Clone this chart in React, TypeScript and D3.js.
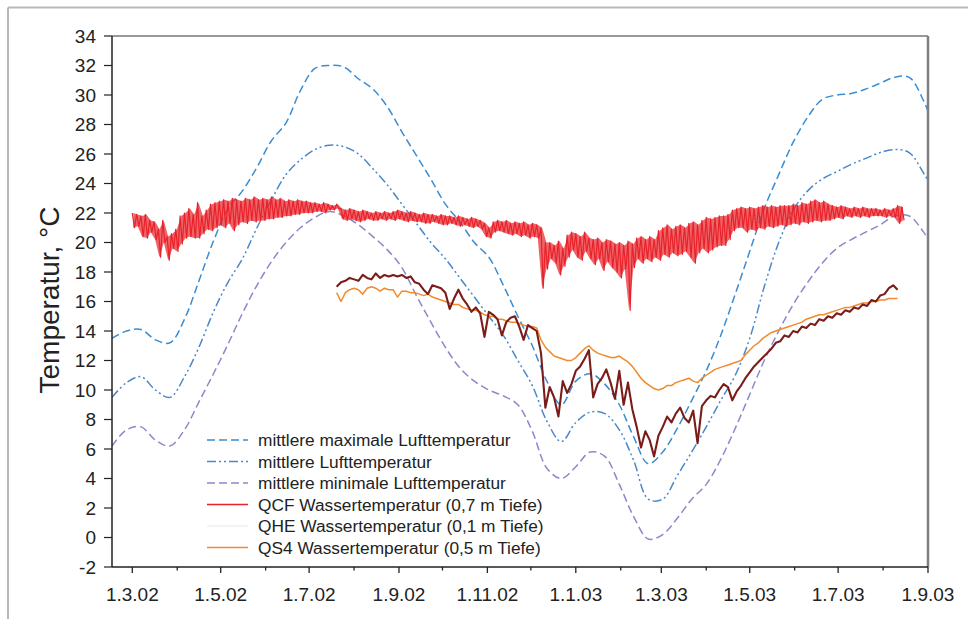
import React from "react";
import * as d3 from "d3";

const WIDTH = 968;
const HEIGHT = 619;

// ---------- axes ----------
const xStart = "2002-02-15";
const xEnd = "2003-09-01";
const yTickValues = [-2, 0, 2, 4, 6, 8, 10, 12, 14, 16, 18, 20, 22, 24, 26, 28, 30, 32, 34];
const xMajorDates = ["2002-03-01", "2002-05-01", "2002-07-01", "2002-09-01", "2002-11-01", "2003-01-01", "2003-03-01", "2003-05-01", "2003-07-01", "2003-09-01"];
const xMajorLabels = ["1.3.02", "1.5.02", "1.7.02", "1.9.02", "1.11.02", "1.1.03", "1.3.03", "1.5.03", "1.7.03", "1.9.03"];
const xMinorDates = ["2002-04-01", "2002-06-01", "2002-08-01", "2002-10-01", "2002-12-01", "2003-02-01", "2003-04-01", "2003-06-01", "2003-08-01"];
const yTitle = "Temperatur, °C";

// ---------- air temperatures (every 10 days from 15.2.02) ----------
const airStart = "2002-02-15";
const airStepDays = 10;
const airMax = [13.5, 14.0, 14.1, 13.4, 13.2, 14.8, 17.4, 20.1, 22.3, 23.5, 25.1, 26.9, 28.1, 30.3, 31.8, 32.0, 31.9, 31.1, 30.4, 29.2, 27.5, 25.9, 24.3, 22.6, 21.4, 20.0, 19.0, 17.1, 15.0, 13.0, 10.6, 9.0, 10.6, 11.1, 10.4, 9.0, 6.8, 5.0, 5.8, 7.4, 9.3, 11.3, 13.7, 16.5, 19.4, 22.3, 24.6, 26.8, 28.5, 29.7, 30.0, 30.1, 30.4, 30.8, 31.2, 31.2, 29.6, 27.0];
const airMean = [9.5, 10.5, 10.9, 10.0, 9.5, 10.9, 12.9, 15.3, 17.3, 18.9, 21.0, 22.9, 24.6, 25.6, 26.3, 26.6, 26.5, 26.0, 25.0, 23.9, 22.6, 21.3, 20.0, 18.9, 17.6, 16.3, 15.0, 13.7, 12.0, 10.3, 7.9, 6.5, 7.8, 8.5, 8.4, 7.3, 5.2, 2.6, 2.6, 4.2, 5.8, 7.5, 9.3, 11.0, 13.5, 17.0, 20.0, 22.2, 23.5, 24.3, 24.8, 25.3, 25.7, 26.1, 26.3, 26.1, 24.7, 23.0];
const airMin = [6.2, 7.3, 7.5, 6.6, 6.2, 7.3, 9.2, 11.1, 13.1, 15.2, 17.1, 18.7, 20.0, 21.0, 21.7, 22.1, 21.8, 21.2, 20.4, 19.5, 18.3, 16.4, 14.6, 12.9, 11.5, 10.6, 10.0, 9.6, 9.0, 7.2, 4.7, 4.0, 4.8, 5.8, 5.5, 3.6, 1.4, -0.1, 0.2, 1.3, 2.6, 3.6, 5.3, 7.4, 9.7, 12.0, 14.0, 15.8, 17.3, 18.6, 19.6, 20.2, 20.7, 21.2, 21.8, 21.8, 20.7, 19.0];

// ---------- QCF water temperature: peaks / troughs every 3 days from 1.3.02 ----------
const qcfStart = "2002-03-01";
const qcfStepDays = 3;
const qcfPeaks = [
  22.0, 21.9, 21.8, 21.9, 21.5, 21.4, 20.9, 21.5, 20.4, 20.6,
  20.9, 21.8, 22.0, 22.3, 21.9, 22.7, 21.8, 22.2, 22.6, 22.7,
  22.8, 22.9, 22.8, 23.0, 22.9, 22.8, 23.0, 22.9, 23.1, 22.9,
  23.0, 22.9, 23.1, 22.9, 23.0, 22.8, 22.9, 22.8, 22.9, 22.8,
  22.8, 22.7, 22.7, 22.6, 22.7, 22.6, 22.5, 22.6, 22.3, 22.2,
  22.3, 22.2, 22.1, 22.2, 22.1, 22.0, 22.1, 22.0, 22.1, 22.0,
  22.1, 22.2, 22.1, 22.0, 22.1, 22.0, 21.9, 22.0, 21.9, 21.9,
  21.8, 21.9, 21.8, 21.8, 21.7, 21.8, 21.7, 21.6, 21.7, 21.6,
  21.5, 21.3, 21.0, 21.4, 21.5, 21.4, 21.5, 21.3, 21.4, 21.3,
  21.4, 21.2, 21.3, 21.2, 21.0, 20.0, 20.0, 19.8, 20.1, 19.6,
  20.5, 20.7, 20.6, 20.4, 20.7, 20.3, 20.2, 20.3, 20.0, 20.2,
  20.1, 19.9, 20.0, 19.8, 20.1, 19.9, 20.3, 20.4, 20.2, 20.4,
  20.2, 20.8, 21.0, 21.2, 20.9, 21.1, 21.2, 21.0, 21.3, 21.4,
  21.2, 21.5, 21.7, 21.6, 21.7, 21.8, 21.8, 21.9, 22.2, 22.3,
  22.4, 22.3, 22.4, 22.3, 22.4, 22.5, 22.4, 22.5, 22.4, 22.5,
  22.5, 22.5, 22.6, 22.5, 22.7, 22.6, 22.8, 22.9, 22.7, 22.8,
  22.6, 22.5, 22.4, 22.5, 22.4, 22.3, 22.4, 22.3, 22.4, 22.3,
  22.3, 22.3, 22.2, 22.3, 22.2, 22.3, 22.5, 22.4,
];
const qcfTroughs = [
  21.0, 21.1, 20.4, 20.3, 20.7, 20.2, 19.0, 20.0, 18.8, 19.6,
  19.4, 19.9, 20.3, 20.4, 20.3, 20.3, 20.6, 20.9, 20.8, 21.0,
  21.2, 21.0, 21.3, 20.8, 21.2, 21.4, 21.3, 21.5, 21.4, 21.5,
  21.5, 21.6, 21.6, 21.7, 21.7, 21.8, 21.8, 21.9, 21.9, 22.0,
  22.0, 22.0, 22.1, 22.1, 22.0, 22.2, 22.2, 22.3, 21.6, 21.5,
  21.6, 21.5, 21.4, 21.5, 21.6, 21.5, 21.5, 21.6, 21.5, 21.6,
  21.5, 21.6, 21.5, 21.4, 21.5, 21.4, 21.4, 21.3, 21.3, 21.4,
  21.3, 21.2, 21.2, 21.3, 21.2, 21.1, 21.2, 21.1, 21.0, 21.1,
  20.9, 20.4, 20.3, 20.7, 20.8, 20.7, 20.6, 20.5, 20.6, 20.4,
  20.5, 20.3, 20.4, 20.3, 16.9, 18.2, 18.9, 18.6, 17.8, 18.4,
  19.0, 19.5, 19.0, 18.8, 19.4, 18.9, 18.5, 18.9, 18.1, 18.7,
  18.3, 18.0, 17.6, 18.2, 15.4, 18.3, 18.9, 18.6, 18.9, 18.7,
  19.0, 18.8, 19.2, 19.0, 19.3, 19.1, 19.2, 19.4, 19.0, 18.6,
  19.3, 19.6, 19.3, 19.5, 19.7, 19.8, 19.8, 20.2, 20.8, 21.0,
  21.0, 20.7, 20.9, 20.8, 21.0, 20.9, 21.1, 21.0, 21.1, 21.2,
  21.1, 21.2, 21.3, 21.2, 21.4, 21.3, 21.4, 21.5, 21.4, 21.5,
  21.5, 21.6, 21.7, 21.6, 21.8, 21.7, 21.8, 21.7, 21.8, 21.7,
  21.8, 21.8, 21.8, 21.7, 21.8, 21.7, 21.3, 21.5,
];

// ---------- QHE and QS4 water temperatures (every 3 days from 20.7.02) ----------
const waterStart = "2002-07-20";
const waterStepDays = 3;
const qheValues = [
  17.0, 17.3, 17.4, 17.6, 17.5, 17.4, 17.8, 17.6, 17.5, 17.9,
  17.6, 17.8, 17.7, 17.8, 17.7, 17.8, 17.6, 17.7, 17.3, 17.2,
  16.8, 16.5, 17.1, 17.0, 16.9, 16.6, 15.5, 16.2, 16.8, 16.2,
  15.8, 15.3, 15.6, 15.2, 13.6, 15.3, 15.1, 14.8, 13.7, 14.6,
  14.9, 15.0, 14.3, 13.4, 14.4, 14.2, 14.0, 12.5, 8.8, 10.2,
  9.5, 8.2, 10.6, 9.8, 10.4, 11.3, 11.6, 12.1, 12.7, 9.5,
  10.4, 10.8, 11.4, 10.5, 9.4, 11.3, 9.0, 10.5, 8.7, 7.5,
  6.1, 7.2, 6.6, 5.5, 6.9, 7.5, 8.2, 7.8, 8.4, 8.8,
  8.1, 7.8, 8.6, 6.4, 8.9, 9.3, 9.6, 9.5, 10.0, 10.4,
  10.2, 9.3, 9.9, 10.3, 10.8, 11.2, 11.6, 11.9, 12.2, 12.5,
  12.8, 13.2, 13.3, 13.7, 13.6, 14.0, 13.9, 14.3, 14.2, 14.5,
  14.4, 14.8, 14.7, 15.0, 14.9, 15.2, 15.1, 15.4, 15.3, 15.6,
  15.5, 15.8, 15.7, 16.1, 16.0, 16.4, 16.5, 16.9, 17.1, 16.8,
];
const qs4Values = [
  16.6, 16.0, 16.6, 16.8, 16.9, 16.8, 16.5, 16.9, 17.0, 16.9,
  16.7, 16.9, 16.8, 16.8, 16.3, 16.7, 16.7, 16.6, 16.6, 16.5,
  16.4, 16.5, 16.3, 16.2, 16.1, 16.0, 15.9, 15.8, 15.8, 15.6,
  15.5, 15.4, 15.4, 15.3, 15.1, 15.0, 15.0, 14.8, 14.8, 14.7,
  14.6, 14.6, 14.5, 14.4, 14.3, 14.3, 14.2, 13.4, 12.9, 12.6,
  12.3, 12.2, 12.1, 12.0, 12.0, 12.2, 12.5, 12.8, 13.0, 12.7,
  12.5, 12.4, 12.3, 12.2, 12.2, 12.3, 12.1, 11.9, 11.6, 11.2,
  10.8, 10.5, 10.3, 10.1, 10.0, 10.1, 10.3, 10.3, 10.5, 10.6,
  10.7, 10.8, 10.6, 10.5, 10.8, 11.0, 11.2, 11.4, 11.5, 11.6,
  11.7, 11.8, 11.9, 12.0, 12.4, 12.7, 13.0, 13.2, 13.5, 13.7,
  13.9, 14.0, 14.1, 14.2, 14.3, 14.4, 14.5, 14.6, 14.8, 14.9,
  15.0, 15.1, 15.1, 15.2, 15.3, 15.4, 15.5, 15.6, 15.6, 15.7,
  15.8, 15.9, 15.9, 16.0, 16.0, 16.1, 16.1, 16.2, 16.2, 16.2,
];

// ---------- legend ----------
const legendLabels = [
  "mittlere maximale Lufttemperatur",
  "mittlere Lufttemperatur",
  "mittlere minimale Lufttemperatur",
  "QCF Wassertemperatur (0,7 m Tiefe)",
  "QHE Wassertemperatur (0,1 m Tiefe)",
  "QS4 Wassertemperatur (0,5 m Tiefe)",
];

const FONT = "'Liberation Sans', Arial, Helvetica, sans-serif";
const C_MAX = "#3a8dd3";
const C_MEAN = "#4a88c9";
const C_MIN = "#8c88cc";
const C_QCF = "#e8222a";
const C_QHE = "#7a1c18";
const C_QS4 = "#f28a2c";

const PLOT = { left: 112, top: 36, right: 928, bottom: 567 };

export default function App() {
  const parse = d3.utcParse("%Y-%m-%d");
  const x = d3.scaleUtc().domain([parse(xStart)!, parse(xEnd)!]).range([PLOT.left, PLOT.right]);
  const y = d3.scaleLinear().domain([-2, 34]).range([PLOT.bottom, PLOT.top]);
  const at = (start: string, days: number) => d3.utcHour.offset(parse(start)!, Math.round(days * 24));

  const airLine = d3
    .line<number>()
    .x((_, i) => x(at(airStart, i * airStepDays)))
    .y((d) => y(d))
    .curve(d3.curveCatmullRom.alpha(0.5));

  const qcfPoints: [Date, number][] = [];
  qcfPeaks.forEach((v, i) => {
    qcfPoints.push([at(qcfStart, i * qcfStepDays), v]);
    qcfPoints.push([at(qcfStart, i * qcfStepDays + qcfStepDays / 2), qcfTroughs[i]]);
  });
  const ptLine = d3
    .line<[Date, number]>()
    .x((d) => x(d[0]))
    .y((d) => y(d[1]));
  const qcfBand = d3
    .area<number>()
    .x((_, i) => x(at(qcfStart, i * qcfStepDays + qcfStepDays / 4)))
    .y0((_, i) => y(qcfTroughs[i]))
    .y1((d) => y(d));
  const waterLine = d3
    .line<number>()
    .x((_, i) => x(at(waterStart, i * waterStepDays)))
    .y((d) => y(d));

  const legendX0 = 207;
  const legendX1 = 248;
  const legendTextX = 258;
  const legendY0 = 440;
  const legendDY = 21.5;
  const legendStyles = [
    { stroke: C_MAX, dash: "8,4" },
    { stroke: C_MEAN, dash: "9,3,2,3,2,3" },
    { stroke: C_MIN, dash: "8,4" },
    { stroke: C_QCF, dash: undefined },
    { stroke: "#f0f0f0", dash: undefined },
    { stroke: C_QS4, dash: undefined },
  ];

  return (
    <svg
      width={WIDTH}
      height={HEIGHT}
      style={{ position: "absolute", left: 0, top: 0, background: "#fff" }}
      fontFamily={FONT}
    >
      <defs>
        <clipPath id="plotClip">
          <rect x={PLOT.left} y={PLOT.top} width={PLOT.right - PLOT.left} height={PLOT.bottom - PLOT.top} />
        </clipPath>
      </defs>
      <rect x={0} y={0} width={WIDTH} height={HEIGHT} fill="#fff" />
      {/* outer frame */}
      <line x1={8} y1={7.5} x2={WIDTH} y2={7.5} stroke="#b8b8b8" strokeWidth={2} />
      <line x1={8} y1={7.5} x2={8} y2={HEIGHT} stroke="#b8b8b8" strokeWidth={2} />

      {/* air temperature curves */}
      <g clipPath="url(#plotClip)" fill="none" strokeWidth={1.5}>
        <path d={airLine(airMin)!} stroke={C_MIN} strokeDasharray="8,4" />
        <path d={airLine(airMean)!} stroke={C_MEAN} strokeDasharray="9,3,2,3,2,3" />
        <path d={airLine(airMax)!} stroke={C_MAX} strokeDasharray="8,4" />
      </g>

      {/* water temperatures */}
      <g clipPath="url(#plotClip)" fill="none" strokeLinejoin="round">
        <path d={qcfBand(qcfPeaks)!} fill={C_QCF} fillOpacity={0.7} stroke="none" />
        <path d={ptLine(qcfPoints)!} stroke={C_QCF} strokeWidth={1.2} />
        <path d={waterLine(qs4Values)!} stroke={C_QS4} strokeWidth={1.5} />
        <path d={waterLine(qheValues)!} stroke={C_QHE} strokeWidth={2.1} />
      </g>

      {/* plot frame */}
      <line x1={PLOT.left} y1={PLOT.top} x2={PLOT.right} y2={PLOT.top} stroke="#333" strokeWidth={1} />
      <line x1={PLOT.right} y1={PLOT.top} x2={PLOT.right} y2={PLOT.bottom} stroke="#808080" strokeWidth={2.5} />
      <line x1={PLOT.left} y1={PLOT.top} x2={PLOT.left} y2={PLOT.bottom} stroke="#222" strokeWidth={1.5} />
      <line x1={PLOT.left} y1={PLOT.bottom} x2={PLOT.right} y2={PLOT.bottom} stroke="#222" strokeWidth={1.5} />

      {/* y axis */}
      {yTickValues.map((v) => (
        <g key={v}>
          <line x1={PLOT.left - 8} x2={PLOT.left} y1={y(v)} y2={y(v)} stroke="#222" strokeWidth={1.2} />
          <text x={96} y={y(v)} dy="0.36em" textAnchor="end" fontSize={19} fill="#222">
            {v}
          </text>
        </g>
      ))}
      <text transform={`translate(59,300) rotate(-90)`} textAnchor="middle" fontSize={28} fill="#222">
        {yTitle}
      </text>

      {/* x axis */}
      {xMajorDates.map((d, i) => {
        const px = x(parse(d)!);
        return (
          <g key={d}>
            <line x1={px} x2={px} y1={PLOT.bottom} y2={PLOT.bottom + 6} stroke="#222" strokeWidth={1.3} />
            <text x={px} y={601} textAnchor="middle" fontSize={19} fill="#222">
              {xMajorLabels[i]}
            </text>
          </g>
        );
      })}
      {xMinorDates.map((d) => {
        const px = x(parse(d)!);
        return <line key={d} x1={px} x2={px} y1={PLOT.bottom} y2={PLOT.bottom + 3.5} stroke="#222" strokeWidth={1.3} />;
      })}

      {/* legend */}
      {legendLabels.map((label, i) => {
        const ly = legendY0 + i * legendDY;
        const st = legendStyles[i];
        return (
          <g key={label}>
            <line x1={legendX0} x2={legendX1} y1={ly} y2={ly} stroke={st.stroke} strokeWidth={1.6} strokeDasharray={st.dash} />
            <text x={legendTextX} y={ly} dy="0.36em" fontSize={17.3} fill="#222">
              {label}
            </text>
          </g>
        );
      })}
    </svg>
  );
}
